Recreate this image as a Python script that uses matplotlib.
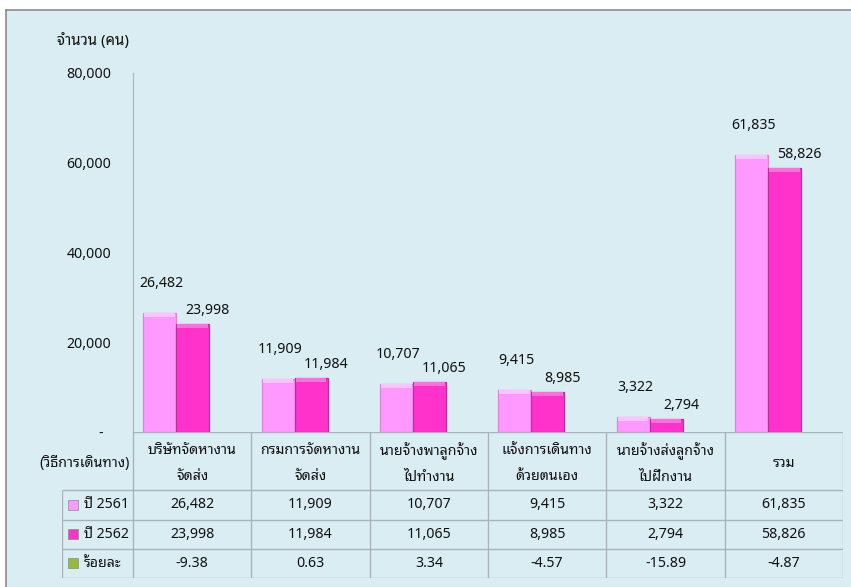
import matplotlib
matplotlib.use("Agg")
import matplotlib.pyplot as plt
from matplotlib.patches import Rectangle

categories = ["บริษัทจัดหางาน\nจัดส่ง", "กรมการจัดหางาน\nจัดส่ง", "นายจ้างพาลูกจ้าง\nไปทำงาน",
              "แจ้งการเดินทาง\nด้วยตนเอง", "นายจ้างส่งลูกจ้าง\nไปฝึกงาน", "รวม"]
series_names = ["ปี 2561", "ปี 2562", "ร้อยละ"]
y2561 = [26482, 11909, 10707, 9415, 3322, 61835]
y2562 = [23998, 11984, 11065, 8985, 2794, 58826]
pct = ["-9.38", "0.63", "3.34", "-4.57", "-15.89", "-4.87"]
yticks = [0, 20000, 40000, 60000, 80000]
ytick_labels = ["-", "20,000", "40,000", "60,000", "80,000"]

plt.rcParams["font.family"] = ["Noto Sans Thai Looped", "Noto Sans", "DejaVu Sans"]
FS = 10.2

W, H = 851, 587
fig = plt.figure(figsize=(W / 100, H / 100), dpi=100)
fig.patch.set_facecolor("white")
bg = "#daedf3"
fig.patches.append(Rectangle((6 / W, 0), 1, 1 - 10 / H, transform=fig.transFigure,
                             facecolor=bg, edgecolor="none", zorder=-5))
fig.lines.append(plt.Line2D([6 / W, 1], [1 - 10 / H] * 2, transform=fig.transFigure,
                            color="#8c8c8c", lw=1.2, zorder=-4))
fig.lines.append(plt.Line2D([6 / W] * 2, [0, 1 - 10 / H], transform=fig.transFigure,
                            color="#8c8c8c", lw=1.2, zorder=-4))

c1, c2, c3 = "#ff99ff", "#ff33cc", "#99bb33"
e1, e2 = "#d688d6", "#c02a9c"
grid = "#a9b4b8"
tc = "#111111"

x0, x1 = 133, 843
ytop, ybot = 73, 432
ax = fig.add_axes([x0 / W, 1 - ybot / H, (x1 - x0) / W, (ybot - ytop) / H])
ax.set_facecolor("none")
ax.set_xlim(0, 6)
ax.set_ylim(0, 80000)
for s in ["top", "right", "bottom"]:
    ax.spines[s].set_visible(False)
ax.spines["left"].set_color(grid)
ax.set_xticks([])
ax.set_yticks(yticks)
ax.set_yticklabels(ytick_labels, fontsize=FS, color=tc)
ax.tick_params(axis="y", length=0, pad=15.5)
ax.get_yticklabels()[0].set_x(-0.012)

colw = (x1 - x0) / 6
bw = 33 / colw
off = 16 / colw
xs = [i + 0.5 - off for i in range(6)]
ax.bar([x - bw / 2 for x in xs], y2561, width=bw, color=c1, edgecolor=e1, lw=0.9, zorder=3)
ax.bar([x + bw / 2 for x in xs], y2562, width=bw, color=c2, edgecolor=e2, lw=0.9, zorder=3)
# bevel highlight on top of bars
hl = 80000 * 4 / (ybot - ytop)
ax.bar([x - bw / 2 for x in xs], [hl] * 6, bottom=[v - hl for v in y2561], width=bw * 0.92,
       color="#ffc4ff", lw=0, zorder=4)
ax.bar([x + bw / 2 for x in xs], [hl] * 6, bottom=[v - hl for v in y2562], width=bw * 0.92,
       color="#ff70dd", lw=0, zorder=4)
for x, v in zip(xs, y2561):
    ax.annotate(f"{v:,}", (x - bw / 2, v), xytext=(2, 22), textcoords="offset pixels",
                ha="center", va="bottom", fontsize=FS, color=tc)
for x, v in zip(xs, y2562):
    ax.annotate(f"{v:,}", (x + bw / 2, v), xytext=(15, 6), textcoords="offset pixels",
                ha="center", va="bottom", fontsize=FS, color=tc)

fig.text(93 / W, 1 - 41 / H, "จำนวน (คน)", ha="center", va="center", fontsize=10.8,
         color=tc, fontweight="medium")

# table
tl = 62
tb = 578
tax = fig.add_axes([tl / W, 1 - tb / H, (x1 - tl) / W, (tb - ybot) / H])
tax.set_facecolor("none")
lu = (x0 - tl) / colw
tax.set_xlim(-lu, 6)
tax.set_ylim(5, 0)
tax.axis("off")
lk = dict(color=grid, lw=1, solid_capstyle="butt")
for i in range(7):
    tax.plot([i, i], [0, 5], **lk)
tax.plot([-lu, -lu], [2, 5], **lk)
tax.plot([0, 6], [0, 0], **lk)
for r in [2, 3, 4, 5]:
    tax.plot([-lu, 6], [r, r], **lk)
for i, c in enumerate(categories):
    tax.text(i + 0.5, 1.08, c, ha="center", va="center", fontsize=FS, linespacing=1.95, color=tc)
tax.text(-0.025, 1.08, "(วิธีการเดินทาง)", ha="right", va="center", fontsize=FS, color=tc)
rows = [[f"{v:,}" for v in y2561], [f"{v:,}" for v in y2562], pct]
for r, (name, vals, col) in enumerate(zip(series_names, rows, [c1, c2, c3])):
    yc = 2.5 + r
    for i, v in enumerate(vals):
        tax.text(i + 0.5, yc, v, ha="center", va="center", fontsize=FS, color=tc)
    tax.text(-lu + 22 / colw, yc, name, ha="left", va="center", fontsize=FS, color=tc)
    tax.add_patch(Rectangle((-lu + 6 / colw, yc - 0.17), 10 / colw, 0.34, facecolor=col,
                            edgecolor="#8a8a8a", lw=0.5, zorder=5))

fig.savefig("out.png", dpi=100)
